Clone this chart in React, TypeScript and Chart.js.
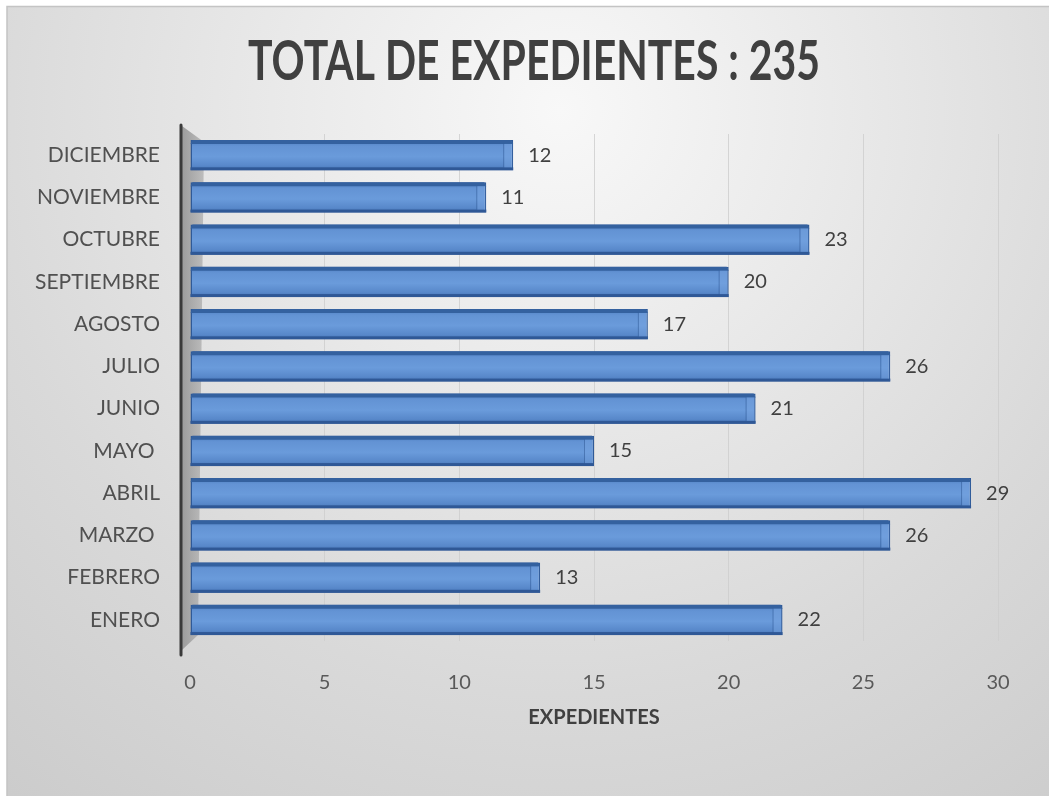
import React, { useEffect, useRef } from 'react';
import { Chart, registerables } from 'chart.js';

Chart.register(...registerables);

const MONTHS = ['ENERO', 'FEBRERO', 'MARZO ', 'ABRIL', 'MAYO ', 'JUNIO', 'JULIO', 'AGOSTO', 'SEPTIEMBRE', 'OCTUBRE', 'NOVIEMBRE', 'DICIEMBRE'];
const EXPEDIENTES = [22, 13, 26, 29, 15, 21, 26, 17, 20, 23, 11, 12];
const X_MIN = 0;
const X_MAX = 30;
const X_STEP = 5;
const TITLE = 'TOTAL DE EXPEDIENTES : 235';
const AXIS_TITLE = 'EXPEDIENTES';

const W = 1049;
const H = 796;

const backgroundPlugin = {
  id: 'bgPlugin',
  beforeDraw(chart: any) {
    const { ctx } = chart;
    ctx.save();
    ctx.fillStyle = '#ffffff';
    ctx.fillRect(0, 0, W, H);
    const g = ctx.createRadialGradient(560, 110, 0, 560, 110, 900);
    g.addColorStop(0, '#f8f8f8');
    g.addColorStop(0.3, '#eaeaea');
    g.addColorStop(0.65, '#d9d9d9');
    g.addColorStop(1, '#cbcbcb');
    ctx.fillStyle = g;
    ctx.fillRect(7, 6, W - 7, H - 6);
    ctx.strokeStyle = '#c4c4c4';
    ctx.lineWidth = 1.5;
    ctx.beginPath();
    ctx.moveTo(7, H);
    ctx.lineTo(7, 6.5);
    ctx.lineTo(W, 6.5);
    ctx.stroke();
    ctx.restore();
  },
};

const wallPlugin = {
  id: 'wallPlugin',
  beforeDatasetsDraw(chart: any) {
    const { ctx, chartArea } = chart;
    const { left, top, bottom } = chartArea;
    ctx.save();
    const g = ctx.createLinearGradient(left - 8, 0, left + 14, 0);
    g.addColorStop(0, '#9c9c9c');
    g.addColorStop(1, '#bdbdbd');
    ctx.fillStyle = g;
    ctx.beginPath();
    ctx.moveTo(left - 8, top - 8);
    ctx.lineTo(left + 14, top + 8);
    ctx.lineTo(left + 8, bottom - 6);
    ctx.lineTo(left - 8, bottom + 9);
    ctx.closePath();
    ctx.fill();
    ctx.strokeStyle = '#3a3a3a';
    ctx.lineWidth = 3;
    ctx.lineCap = 'round';
    ctx.beginPath();
    ctx.moveTo(left - 9, top - 9);
    ctx.lineTo(left - 9, bottom + 14);
    ctx.stroke();
    ctx.restore();
  },
};

const bar3dPlugin = {
  id: 'bar3dPlugin',
  afterDatasetsDraw(chart: any) {
    const { ctx } = chart;
    const meta = chart.getDatasetMeta(0);
    ctx.save();
    meta.data.forEach((el: any, i: number) => {
      const { x, y, base, height } = el.getProps(['x', 'y', 'base', 'height'], true);
      const top = y - height / 2;
      const bottom = y + height / 2;
      // top face
      ctx.fillStyle = '#34619f';
      ctx.beginPath();
      ctx.moveTo(base + 2, top);
      ctx.lineTo(x - 2, top);
      ctx.lineTo(x, top + 4);
      ctx.lineTo(base, top + 4);
      ctx.closePath();
      ctx.fill();
      // bottom edge
      ctx.fillStyle = '#2f5896';
      ctx.fillRect(base, bottom - 3, x - base, 3);
      // right cap
      ctx.fillStyle = 'rgba(120,165,225,0.45)';
      ctx.fillRect(x - 9, top + 4, 8, height - 7);
      ctx.strokeStyle = 'rgba(45,85,145,0.5)';
      ctx.lineWidth = 1;
      ctx.beginPath();
      ctx.moveTo(x - 9.5, top + 4);
      ctx.lineTo(x - 9.5, bottom - 3);
      ctx.stroke();
      // value label
      ctx.fillStyle = '#404040';
      ctx.font = '20px Lato';
      ctx.textAlign = 'left';
      ctx.textBaseline = 'middle';
      ctx.fillText(String(EXPEDIENTES[i]), x + 15, y);
    });
    ctx.restore();
  },
};

const titlePlugin = {
  id: 'titlePlugin',
  afterDraw(chart: any) {
    const { ctx } = chart;
    ctx.save();
    ctx.font = 'bold 55px Lato';
    const w = ctx.measureText(TITLE).width;
    const sx = 572 / w;
    ctx.translate(534, 80);
    ctx.scale(sx, 1);
    ctx.textAlign = 'center';
    ctx.textBaseline = 'alphabetic';
    ctx.fillStyle = '#404040';
    ctx.fillText(TITLE, 0, 0);
    ctx.restore();
  },
};

export default function App() {
  const ref = useRef<HTMLCanvasElement>(null);

  useEffect(() => {
    document.body.style.margin = '0';
    const canvas = ref.current;
    if (!canvas) return;
    const chart = new Chart(canvas, {
      type: 'bar',
      data: {
        labels: MONTHS,
        datasets: [
          {
            label: AXIS_TITLE,
            data: EXPEDIENTES,
            backgroundColor: (c: any) => {
              const ch = c.chart;
              const ys = ch.scales && ch.scales.y;
              if (!ys || !ch.chartArea) return '#5f90d3';
              const yc = ys.getPixelForValue(c.dataIndex);
              const g = ch.ctx.createLinearGradient(0, yc - 15, 0, yc + 15);
              g.addColorStop(0, '#4d7ec0');
              g.addColorStop(0.2, '#6393d4');
              g.addColorStop(0.55, '#6a9bdb');
              g.addColorStop(0.85, '#5888ca');
              g.addColorStop(1, '#4675b5');
              return g;
            },
            borderColor: '#2f5a98',
            borderWidth: 1.5,
            borderSkipped: false,
            barPercentage: 0.72,
            categoryPercentage: 1,
          },
        ],
      },
      options: {
        indexAxis: 'y',
        responsive: false,
        animation: false,
        devicePixelRatio: 1,
        layout: { padding: { left: 0, right: 51, top: 134, bottom: 55 } },
        plugins: {
          legend: { display: false },
          tooltip: { enabled: false },
          title: { display: false },
        },
        scales: {
          x: {
            min: X_MIN,
            max: X_MAX,
            ticks: {
              stepSize: X_STEP,
              color: '#595959',
              font: { family: 'Lato', size: 20 },
              padding: 30,
            },
            grid: {
              color: (c: any) => (c.tick && c.tick.value === 0 ? 'rgba(0,0,0,0)' : 'rgba(205,205,205,0.8)'),
              lineWidth: 1,
              drawTicks: false,
            },
            border: { display: false },
            title: {
              display: true,
              text: AXIS_TITLE,
              color: '#404040',
              font: { family: 'Lato', size: 20, weight: 'bold' },
              padding: { top: 0, bottom: 11 },
            },
            afterFit: (s: any) => {
              s.height = 100;
            },
          },
          y: {
            reverse: true,
            ticks: {
              color: '#505050',
              font: { family: 'Lato', size: 21 },
              padding: 30,
            },
            grid: { display: false, drawTicks: false },
            border: { display: false },
            afterFit: (s: any) => {
              s.width = 190;
            },
          },
        },
      },
      plugins: [backgroundPlugin, wallPlugin, bar3dPlugin, titlePlugin],
    } as any);
    return () => chart.destroy();
  }, []);

  return (
    <div style={{ width: W, height: H, overflow: 'hidden' }}>
      <canvas ref={ref} width={W} height={H} style={{ display: 'block' }} />
    </div>
  );
}
